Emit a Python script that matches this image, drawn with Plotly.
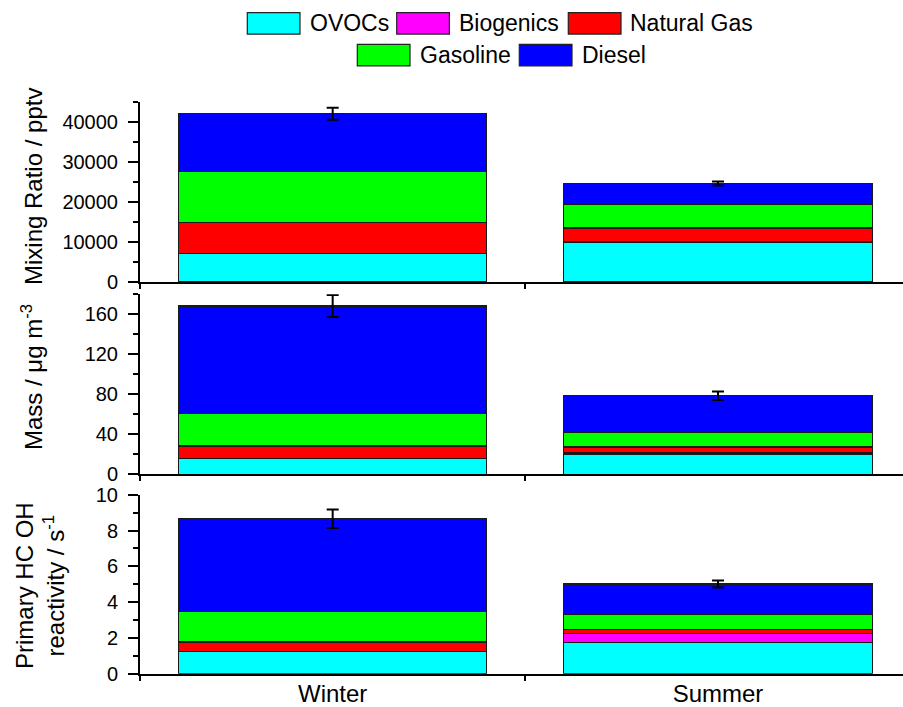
import plotly.graph_objects as go
from plotly.subplots import make_subplots

# ---- data -------------------------------------------------------------
seasons = ["Winter", "Summer"]
sources = ["OVOCs", "Biogenics", "Natural Gas", "Gasoline", "Diesel"]
source_colors = ["#00FFFF", "#FF00FF", "#FF0000", "#00FF00", "#0000FF"]

# rows follow `sources`, columns follow `seasons`
mixing_ratio_pptv = [
    [7200, 9800],
    [0, 200],
    [7600, 3500],
    [12700, 5900],
    [14500, 5200],
]
mixing_ratio_err = [1500, 500]

mass_ugm3 = [
    [15.6, 20.3],
    [0.0, 1.7],
    [12.7, 5.3],
    [32.3, 14.7],
    [107.7, 36.6],
]
mass_err = [11, 4.2]

oh_reactivity_s1 = [
    [1.23, 1.73],
    [0.0, 0.50],
    [0.54, 0.25],
    [1.69, 0.82],
    [5.20, 1.71],
]
oh_reactivity_err = [0.52, 0.2]

panels = [
    (mixing_ratio_pptv, mixing_ratio_err, [0, 45000], 10000, 5000),
    (mass_ugm3, mass_err, [0, 180], 40, 20),
    (oh_reactivity_s1, oh_reactivity_err, [0, 10], 2, 1),
]

# ---- page geometry (pixels) ------------------------------------------
W, H = 903, 707
LEFT = 140


def px_x(x):
    return (x - LEFT) / (W - LEFT)


def px_y(y):
    return 1 - y / H


panel_px = [(101.7, 282.0), (294.3, 474.3), (494.7, 673.7)]

FONT = "Arial, Liberation Sans, sans-serif"

fig = make_subplots(rows=3, cols=1)

for row, (values, errs, yrange, dtick, minor_dtick) in enumerate(panels, start=1):
    for name, color, vals in zip(sources, source_colors, values):
        fig.add_trace(
            go.Bar(
                x=seasons,
                y=vals,
                name=name,
                marker=dict(color=color, line=dict(color="#1a1a1a", width=1.2)),
                showlegend=False,
            ),
            row=row,
            col=1,
        )
    totals = [sum(col) for col in zip(*values)]
    fig.add_trace(
        go.Scatter(
            x=seasons,
            y=totals,
            mode="markers",
            marker=dict(size=1, color="rgba(0,0,0,0)"),
            error_y=dict(type="data", array=errs, visible=True,
                         color="black", thickness=2, width=6),
            showlegend=False,
            hoverinfo="skip",
        ),
        row=row,
        col=1,
    )
    top, bottom = panel_px[row - 1]
    fig.update_yaxes(
        domain=[px_y(bottom), px_y(top)],
        range=yrange,
        dtick=dtick,
        tick0=0,
        tickformat="d",
        ticks="outside",
        ticklen=10,
        tickwidth=1.5,
        tickcolor="black",
        showline=True,
        linecolor="black",
        linewidth=2,
        showgrid=False,
        zeroline=False,
        tickfont=dict(family=FONT, size=20, color="black"),
        ticklabelstandoff=6,
        minor=dict(dtick=minor_dtick, tick0=0, ticks="outside", ticklen=5,
                   tickwidth=1.5, tickcolor="black", showgrid=False),
        automargin=False,
        row=row,
        col=1,
    )
    fig.update_xaxes(
        range=[-0.5, 1.48],
        type="category",
        tickson="boundaries",
        ticks="outside",
        ticklen=5,
        tickwidth=1.5,
        tickcolor="black",
        showline=True,
        linecolor="black",
        linewidth=2,
        showgrid=False,
        zeroline=False,
        showticklabels=(row == 3),
        tickfont=dict(family=FONT, size=24, color="black"),
        ticklabelstandoff=-3,
        automargin=False,
        row=row,
        col=1,
    )

# ---- axis titles -------------------------------------------------------
y_titles = [
    ("Mixing Ratio / pptv", 34, 187),
    ("Mass / \u03bcg m<sup>-3</sup>", 32, 377),
    ("Primary HC OH<br>reactivity / s<sup>-1</sup>", 40, 586),
]
annotations = []
for text, xc, yc in y_titles:
    annotations.append(dict(
        text=text, textangle=-90, xref="paper", yref="paper",
        x=px_x(xc), y=px_y(yc), xanchor="center", yanchor="middle",
        showarrow=False, font=dict(family=FONT, size=24, color="black"),
    ))

# ---- legend: two centred rows of swatches ----------------------------
legend_rows = [
    [(0, 247.3, 308.3), (1, 396.7, 457.3), (2, 568.3, 628.3)],
    [(3, 357.3, 418.3), (4, 519.3, 580.0)],
]
row_centres = [23.3, 55.2]
SW_W, SW_H = 52.7, 21.5
shapes = []
for items, yc in zip(legend_rows, row_centres):
    for idx, x0, xt in items:
        shapes.append(dict(
            type="rect", xref="paper", yref="paper",
            x0=px_x(x0), x1=px_x(x0 + SW_W),
            y0=px_y(yc + SW_H / 2), y1=px_y(yc - SW_H / 2),
            fillcolor=source_colors[idx], line=dict(color="#222222", width=1.2),
        ))
        annotations.append(dict(
            text=sources[idx], xref="paper", yref="paper",
            x=px_x(xt), y=px_y(yc), xanchor="left", yanchor="middle",
            showarrow=False, font=dict(family=FONT, size=23, color="black"),
        ))

fig.update_layout(
    width=W,
    height=H,
    barmode="stack",
    bargap=0.2,
    margin=dict(l=LEFT, r=0, t=0, b=0),
    paper_bgcolor="white",
    plot_bgcolor="white",
    showlegend=False,
    annotations=annotations,
    shapes=shapes,
    font=dict(family=FONT, color="black"),
)

fig.write_html("out.html")
